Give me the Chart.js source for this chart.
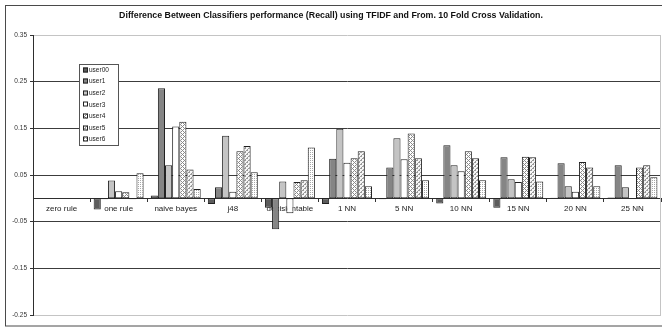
<!DOCTYPE html>
<html>
<head>
<meta charset="utf-8">
<script src="https://cdn.jsdelivr.net/npm/chart.js@4/dist/chart.umd.min.js"></script>
<style>
  html, body { margin: 0; padding: 0; background: #fff; }
  canvas { display: block; }
</style>
</head>
<body>
<canvas id="c" width="662" height="329"></canvas>
<script>
// Classifier groups along the category axis
const categories = ['zero rule', 'one rule', 'naive bayes', 'j48', 'decisiontable',
  '1 NN', '5 NN', '10 NN', '15 NN', '20 NN', '25 NN'];

// Recall difference per user (TFIDF minus 10 fold cross validation)
const user00 = [0, -0.024, 0.006, -0.012, -0.020, -0.012, -0.002, -0.011, -0.020, 0.001, 0.002];
const user1  = [0, -0.002, 0.236, 0.024, -0.066, 0.085, 0.066, 0.114, 0.088, 0.075, 0.071];
const user2  = [0, 0.038, 0.071, 0.134, 0.036, 0.149, 0.129, 0.071, 0.041, 0.026, 0.024];
const user3  = [0, 0.015, 0.154, 0.014, -0.032, 0.076, 0.084, 0.058, 0.035, 0.014, -0.001];
const user4  = [0, 0.013, 0.164, 0.101, 0.035, 0.086, 0.139, 0.101, 0.089, 0.078, 0.066];
const user5  = [0, -0.002, 0.062, 0.112, 0.039, 0.101, 0.086, 0.086, 0.088, 0.066, 0.071];
const user6  = [0, 0.054, 0.020, 0.056, 0.109, 0.026, 0.039, 0.039, 0.036, 0.026, 0.045];

const seriesNames = ['user00', 'user1', 'user2', 'user3', 'user4', 'user5', 'user6'];
const seriesValues = [user00, user1, user2, user3, user4, user5, user6];

// Value axis ticks
const yTickValues = [0.35, 0.25, 0.15, 0.05, -0.05, -0.15, -0.25];
const yTickLabels = ['0.35', '0.25', '0.15', '0.05', '-0.05', '-0.15', '-0.25'];

const chartTitle = 'Difference Between Classifiers performance (Recall) using TFIDF and From. 10 Fold Cross Validation.';

const FONT = "'Liberation Sans', Arial, sans-serif";

// Small pixel tiles used as fills for the hatched series
function tile(size, bg, fg, test) {
  const t = document.createElement('canvas');
  t.width = t.height = size;
  const g = t.getContext('2d');
  g.fillStyle = bg;
  g.fillRect(0, 0, size, size);
  g.fillStyle = fg;
  for (let y = 0; y < size; y++) {
    for (let x = 0; x < size; x++) {
      if (test(x, y)) g.fillRect(x, y, 1, 1);
    }
  }
  return document.getElementById('c').getContext('2d').createPattern(t, 'repeat');
}

const fills = [
  '#5c5c5c',
  '#858585',
  '#c4c4c4',
  '#ffffff',
  tile(4, '#ffffff', '#8a8a8a', (x, y) => (x + y) % 4 === 0 || (x - y + 4) % 4 === 0),
  tile(4, '#f6f6f6', '#9a9a9a', (x, y) => (x + y) % 4 === 0 || ((x + y) % 4 === 1 && y % 2 === 0)),
  tile(4, '#ffffff', '#a8a8a8', (x, y) => (x + y) % 2 === 0 && y % 2 === 0)
];

const datasets = seriesNames.map((name, i) => ({
  label: name,
  data: seriesValues[i],
  backgroundColor: fills[i],
  borderColor: '#202020',
  borderWidth: 1,
  borderSkipped: false,
  categoryPercentage: 0.875,
  barPercentage: 1.0
}));

// Title, outer frame, plot border on the right and the boxed legend
const decorations = {
  id: 'decorations',
  beforeDraw(chart) {
    const ctx = chart.ctx;
    ctx.save();
    ctx.fillStyle = '#fff';
    ctx.fillRect(0, 0, chart.width, chart.height);
    ctx.restore();
  },
  afterDraw(chart) {
    const ctx = chart.ctx;
    const a = chart.chartArea;
    ctx.save();
    // plot area right edge
    ctx.strokeStyle = '#c4c4c4';
    ctx.lineWidth = 1;
    ctx.beginPath();
    ctx.moveTo(a.right - 0.5, a.top);
    ctx.lineTo(a.right - 0.5, a.bottom);
    ctx.stroke();
    // outer frame
    ctx.strokeStyle = '#4a4a4a';
    ctx.strokeRect(5.5, 5.5, 700, 320.5);
    // title
    ctx.fillStyle = '#111';
    ctx.font = 'bold 8.8px ' + FONT;
    ctx.textAlign = 'center';
    ctx.textBaseline = 'middle';
    ctx.fillText(chartTitle, 331, 16, 424);
    // legend box
    const lx = 79.5, ly = 64.5, lw = 39, lh = 81;
    ctx.fillStyle = '#fff';
    ctx.fillRect(lx, ly, lw, lh);
    ctx.strokeStyle = '#555';
    ctx.strokeRect(lx, ly, lw, lh);
    ctx.font = '6.5px ' + FONT;
    ctx.textAlign = 'left';
    chart.data.datasets.forEach((ds, i) => {
      const cy = 69.5 + i * 11.6;
      ctx.fillStyle = ds.backgroundColor;
      ctx.fillRect(83, Math.round(cy) - 2.5, 5, 5);
      ctx.strokeStyle = '#222';
      ctx.strokeRect(83.5, Math.round(cy) - 2, 4, 4);
      ctx.fillStyle = '#222';
      ctx.fillText(ds.label, 89, cy + 0.5);
    });
    ctx.restore();
  }
};

new Chart(document.getElementById('c'), {
  type: 'bar',
  data: { labels: categories, datasets },
  options: {
    responsive: false,
    animation: false,
    events: [],
    layout: { padding: { top: 35, bottom: 14, left: 0, right: 1 } },
    plugins: {
      legend: { display: false },
      title: { display: false },
      tooltip: { enabled: false }
    },
    scales: {
      x: {
        position: { y: 0 },
        grid: {
          offset: true,
          drawOnChartArea: false,
          drawTicks: true,
          tickLength: 3,
          tickColor: '#333'
        },
        border: { display: true, color: '#2e2e2e', width: 1 },
        ticks: {
          autoSkip: false,
          maxRotation: 0,
          padding: 3,
          color: '#222',
          font: { family: FONT, size: 8 }
        }
      },
      y: {
        min: -0.25,
        max: 0.35,
        afterFit(scale) { scale.width = 33; },
        afterBuildTicks(scale) {
          scale.ticks = yTickValues.map(v => ({ value: v }));
        },
        grid: {
          color: (c) => {
            const v = c.tick ? c.tick.value : 0;
            return (Math.abs(v - 0.35) < 1e-9 || Math.abs(v + 0.25) < 1e-9) ? '#c4c4c4' : '#3c3c3c';
          },
          tickColor: '#333',
          tickLength: 3,
          lineWidth: 1
        },
        border: { display: true, color: '#2e2e2e', width: 1 },
        ticks: {
          padding: 3,
          color: '#333',
          font: { family: FONT, size: 6.5 },
          callback: (value) => {
            const k = yTickValues.findIndex(v => Math.abs(v - value) < 1e-9);
            return k >= 0 ? yTickLabels[k] : '';
          }
        }
      }
    }
  },
  plugins: [decorations]
});
</script>
</body>
</html>
